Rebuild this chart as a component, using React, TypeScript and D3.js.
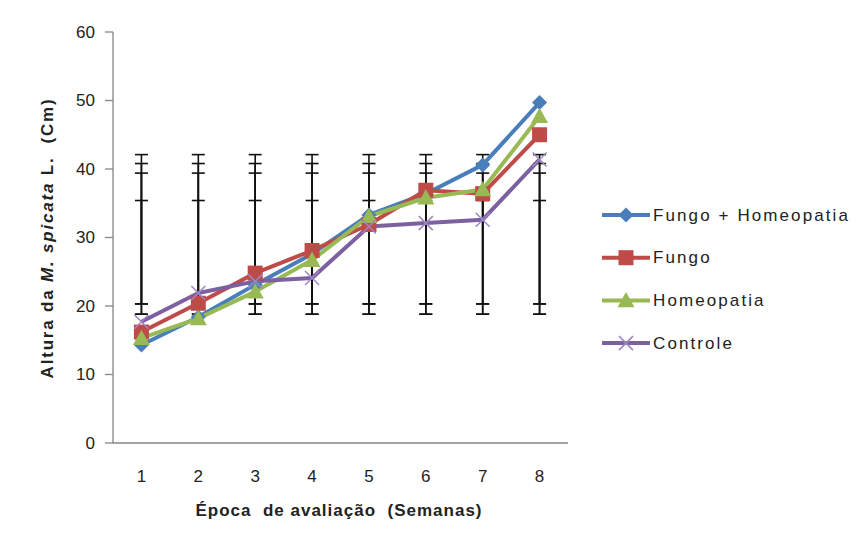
import React from "react";
import * as d3 from "d3";

const weeks = ["1", "2", "3", "4", "5", "6", "7", "8"];
const yTicks = [0, 10, 20, 30, 40, 50, 60];

const seriesNames = ["Fungo + Homeopatia", "Fungo", "Homeopatia", "Controle"];
const fungoHomeopatia = [14.3, 18.4, 23.1, 27.6, 33.3, 36.4, 40.6, 49.7];
const fungo = [16.2, 20.4, 24.8, 28.1, 31.9, 36.9, 36.4, 45.0];
const homeopatia = [15.3, 18.2, 22.1, 26.7, 33.1, 35.8, 37.0, 47.7];
const controle = [17.7, 21.9, 23.6, 24.1, 31.6, 32.1, 32.6, 41.4];

// error bar extents (lower, upper) per series
const errLower = [18.8, 20.3, 18.8, 20.3];
const errUpper = [42.1, 39.4, 40.8, 35.4];

const colors = ["#4A7EBB", "#BE4B48", "#98B954", "#7D60A0"];
const markers = ["diamond", "square", "triangle", "x"];

const W = 864;
const H = 545;

function Marker({ type, x, y, color }: { type: string; x: number; y: number; color: string }) {
  if (type === "diamond") {
    const s = 7.5;
    return <path d={`M${x},${y - s}L${x + s},${y}L${x},${y + s}L${x - s},${y}Z`} fill={color} />;
  }
  if (type === "square") {
    const s = 7.5;
    return <rect x={x - s} y={y - s} width={2 * s} height={2 * s} fill={color} />;
  }
  if (type === "triangle") {
    const s = 8.5;
    return <path d={`M${x},${y - s}L${x + s},${y + s * 0.8}L${x - s},${y + s * 0.8}Z`} fill={color} />;
  }
  const s = 7;
  return (
    <path
      d={`M${x - s},${y - s}L${x + s},${y + s}M${x - s},${y + s}L${x + s},${y - s}`}
      stroke="#9E86C0"
      strokeWidth={1.5}
      fill="none"
    />
  );
}

export default function App() {
  const data = [fungoHomeopatia, fungo, homeopatia, controle];
  const x = d3.scaleBand<string>().domain(weeks).range([113, 568]);
  const y = d3.scaleLinear().domain([0, 60]).range([443, 32]);
  const cx = (w: string) => (x(w) as number) + x.bandwidth() / 2;
  const line = d3
    .line<number>()
    .x((_, i) => cx(weeks[i]))
    .y((d) => y(d));

  const font = "'Liberation Sans', Arial, sans-serif";

  return (
    <svg width={W} height={H} style={{ position: "absolute", left: 0, top: 0 }}>
      <rect width={W} height={H} fill="white" />
      {/* axes */}
      <line x1={113} x2={113} y1={y(60)} y2={y(0)} stroke="#868686" strokeWidth={1.3} />
      <line x1={113} x2={568} y1={y(0)} y2={y(0)} stroke="#868686" strokeWidth={1.3} />
      {yTicks.map((t) => (
        <g key={t}>
          <line x1={105} x2={113} y1={y(t)} y2={y(t)} stroke="#868686" strokeWidth={1.3} />
          <text
            x={95}
            y={y(t)}
            textAnchor="end"
            dominantBaseline="central"
            fontFamily={font}
            fontSize={17}
            fill="#222"
          >
            {t}
          </text>
        </g>
      ))}
      {weeks.map((w) => (
        <text
          key={w}
          x={cx(w)}
          y={476}
          textAnchor="middle"
          dominantBaseline="central"
          fontFamily={font}
          fontSize={17}
          fill="#222"
        >
          {w}
        </text>
      ))}
      {/* error bars */}
      {data.map((_, si) =>
        weeks.map((w) => (
          <g key={`e${si}-${w}`} stroke="#111" strokeWidth={1.6}>
            <line x1={cx(w)} x2={cx(w)} y1={y(errLower[si])} y2={y(errUpper[si])} />
            <line x1={cx(w) - 6.5} x2={cx(w) + 6.5} y1={y(errLower[si])} y2={y(errLower[si])} />
            <line x1={cx(w) - 6.5} x2={cx(w) + 6.5} y1={y(errUpper[si])} y2={y(errUpper[si])} />
          </g>
        ))
      )}
      {/* lines */}
      {data.map((vals, si) => (
        <path key={`l${si}`} d={line(vals) as string} fill="none" stroke={colors[si]} strokeWidth={4} strokeLinejoin="round" />
      ))}
      {data.map((vals, si) =>
        vals.map((v, i) => (
          <Marker key={`m${si}-${i}`} type={markers[si]} x={cx(weeks[i])} y={y(v)} color={colors[si]} />
        ))
      )}
      {/* legend */}
      {seriesNames.map((name, si) => {
        const ly = 215 + si * 42.7;
        return (
          <g key={name}>
            <line x1={602} x2={650} y1={ly} y2={ly} stroke={colors[si]} strokeWidth={4} />
            <Marker type={markers[si]} x={626} y={ly} color={colors[si]} />
            <text
              x={653}
              y={ly}
              dominantBaseline="central"
              fontFamily={font}
              fontSize={17}
              letterSpacing={2.1}
              fill="#222"
            >
              {name}
            </text>
          </g>
        );
      })}
      {/* axis titles */}
      <text
        x={339}
        y={510}
        textAnchor="middle"
        dominantBaseline="central"
        fontFamily={font}
        fontSize={17}
        fontWeight="bold"
        letterSpacing={1}
        fill="#222"
        style={{ whiteSpace: "pre" }}
      >
        {"Época  de avaliação  (Semanas)"}
      </text>
      <text
        transform="translate(47,238) rotate(-90)"
        textAnchor="middle"
        dominantBaseline="central"
        fontFamily={font}
        fontSize={17}
        fontWeight="bold"
        fill="#222"
        letterSpacing={1.8}
        style={{ whiteSpace: "pre" }}
      >
        <tspan>Altura da </tspan>
        <tspan fontStyle="italic">M. spicata</tspan>
        <tspan>{" L.  (Cm)"}</tspan>
      </text>
    </svg>
  );
}
